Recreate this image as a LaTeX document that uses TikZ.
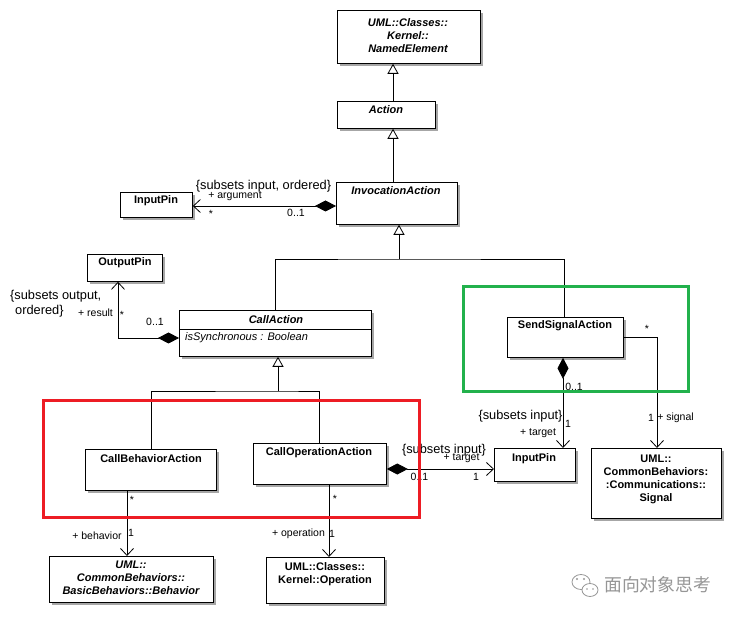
\documentclass[tikz,border=0pt]{standalone}
\usepackage{fontspec}
\setmainfont{Liberation Sans}
\newfontfamily\cjkfont{Noto Sans CJK SC}
\usetikzlibrary{arrows.meta,shadows}
\definecolor{umlgreen}{RGB}{34,177,76}
\definecolor{umlred}{RGB}{237,28,36}
\definecolor{wmgray}{RGB}{150,150,150}
\tikzset{
  umlbox/.style={draw, fill=white, line width=0.8pt, inner sep=0pt, anchor=north west,
     drop shadow={shadow xshift=2.5pt, shadow yshift=-2.5pt, fill=black!35, opacity=1}},
  cname/.style={inner sep=0pt, align=center, font=\fontsize{11}{13}\selectfont\bfseries},
  aname/.style={inner sep=0pt, align=center, font=\fontsize{11}{13}\selectfont\bfseries\itshape},
  attr/.style={inner sep=0pt, anchor=west, font=\fontsize{11}{13}\selectfont\itshape},
  lbl/.style={inner sep=0pt, font=\fontsize{10.5}{12}\selectfont},
  cons/.style={inner sep=0pt, font=\fontsize{12.8}{14}\selectfont},
  conn/.style={line width=0.8pt},
  gen/.style={conn, -{Triangle[open, length=10pt, width=11pt]}},
  nav/.style={conn, -{Straight Barb[length=7pt, width=13pt]}},
  comp/.style={conn, {Diamond[length=21pt, width=11pt]}-{Straight Barb[length=7pt, width=13pt]}},
  frame/.style={line width=3pt},
}
\newcommand\mkbox[5]{\node[umlbox, minimum width={(#4-#2)*1pt}, minimum height={(#5-#3)*1pt}] (#1) at (#2,#3) {};}
\begin{document}
\begin{tikzpicture}[x=1pt,y=-1pt]
\useasboundingbox (0,0) rectangle (736,617);
\fill[white] (0,0) rectangle (736,617);
% boxes
\mkbox{ne}{337}{10}{480}{63}
\mkbox{act}{337}{101}{435}{128}
\mkbox{inv}{336}{182}{457}{224}
\mkbox{inL}{120}{192}{192}{217}
\mkbox{out}{87}{254}{162}{281}
\mkbox{call}{179}{310}{371}{356}
\mkbox{ssa}{507}{317}{623}{357}
\mkbox{cba}{85}{449}{216}{490}
\mkbox{coa}{253}{443}{386}{484}
\mkbox{inR}{494}{448}{575}{481}
\mkbox{sig}{591}{448}{721}{518}
\mkbox{beh}{49}{556}{213}{602}
\mkbox{op}{266}{557}{384}{603}
% box texts
\node[aname] (neT) at (408,35.5) {UML::Classes::\\Kernel::\\NamedElement};
\node[aname] (actT) at (386,110) {Action};
\node[aname] (invT) at (396,191) {InvocationAction};
\node[cname] (inLT) at (156,201) {InputPin};
\node[cname] (outT) at (125,263) {OutputPin};
\node[aname] (callT) at (276,320) {CallAction};
\draw[conn] (call.west |- 0,329) -- (call.east |- 0,329);
\node[attr] (callA) at (185,337.5) {isSynchronous : Boolean};
\node[cname] (ssaT) at (565,326) {SendSignalAction};
\node[cname] (cbaT) at (151,459) {CallBehaviorAction};
\node[cname] (coaT) at (319,453) {CallOperationAction};
\node[cname] (inRT) at (534,458.5) {InputPin};
\node[cname] (sigT) at (656,479.5) {UML::\\CommonBehaviors:\\:Communications::\\Signal};
\node[aname] (behT) at (131,578) {UML::\\CommonBehaviors::\\BasicBehaviors::Behavior};
\node[cname] (opT) at (325,574) {UML::Classes::\\Kernel::Operation};
% connectors
\coordinate (j1) at (399,259);
\coordinate (j2) at (278,391);
\draw[gen] (act.north -| 393,0) -- (ne.south -| 393,0);
\draw[gen] (inv.north -| 393,0) -- (act.south -| 393,0);
\draw[comp] (inv.west |- 0,206) -- (inL.east |- 0,206);
\draw[gen] (j1) -- (inv.south -| j1);
\draw[conn] (call.north -| 275,0) |- (j1) -| (ssa.north -| 564,0);
\draw[comp] (call.west |- 0,338) -| (out.south -| 118,0);
\draw[gen] (j2) -- (call.south -| j2);
\draw[conn] (cba.north -| 151,0) |- (j2) -| (coa.north -| 319,0);
\draw[nav] (cba.south -| 127,0) -- (beh.north -| 127,0);
\draw[nav] (coa.south -| 329,0) -- (op.north -| 329,0);
\draw[comp] (coa.east |- 0,469) -- (inR.west |- 0,469);
\draw[comp] (ssa.south -| 563,0) -- (inR.north -| 563,0);
\draw[nav] (ssa.east |- 0,337) -| (sig.north -| 657,0);
% labels
\node[cons] (l1) at (263.5,186) {\{subsets input, ordered\}};
\node[lbl] (l2) at (235,196) {+ argument};
\node[lbl] (l3) at (211,214) {*};
\node[lbl] (l4) at (296,213) {0..1};
\node[cons, anchor=west] (l5) at (10,296) {\{subsets output,};
\node[cons, anchor=west] (l6) at (15,311) {ordered\}};
\node[lbl] (l7) at (95.5,313) {+ result};
\node[lbl] (l8) at (122,315) {*};
\node[lbl] (l9) at (155,322) {0..1};
\node[lbl] (l10) at (647,329) {*};
\node[lbl] (l11) at (574,387) {0..1};
\node[cons] (l12) at (520.5,416) {\{subsets input\}};
\node[lbl] (l13) at (568,424) {1};
\node[lbl] (l14) at (538,433) {+ target};
\node[lbl] (l15) at (651,418) {1};
\node[lbl] (l16) at (675.5,418) {+ signal};
\node[cons] (l17) at (444,450) {\{subsets input\}};
\node[lbl] (l18) at (461.5,458) {+ target};
\node[lbl] (l19) at (419.5,477) {0..1};
\node[lbl] (l20) at (476,477) {1};
\node[lbl] (l21) at (132,500) {*};
\node[lbl] (l22) at (97,536) {+ behavior};
\node[lbl] (l23) at (131,533) {1};
\node[lbl] (l24) at (335,499) {*};
\node[lbl] (l25) at (298.5,534) {+ operation};
\node[lbl] (l26) at (332,534) {1};
% highlight frames
\draw[frame, umlgreen] (463,287) rectangle (688,391);
\draw[frame, umlred] (43,400) rectangle (419,517);
% watermark
\draw[wmgray, line width=0.8pt] (581,582) ellipse [x radius=9pt, y radius=7.5pt];
\draw[wmgray, fill=white, line width=0.8pt] (590,590) ellipse [x radius=8pt, y radius=6.5pt];
\fill[wmgray] (577,579) circle (1.1pt) (584,579) circle (1.1pt) (587,589) circle (0.9pt) (593,589) circle (0.9pt);
\node[text=wmgray, inner sep=0pt, anchor=west, font=\cjkfont\fontsize{17.8}{19}\selectfont] (wm) at (604,585) {面向对象思考};
\end{tikzpicture}
\end{document}
